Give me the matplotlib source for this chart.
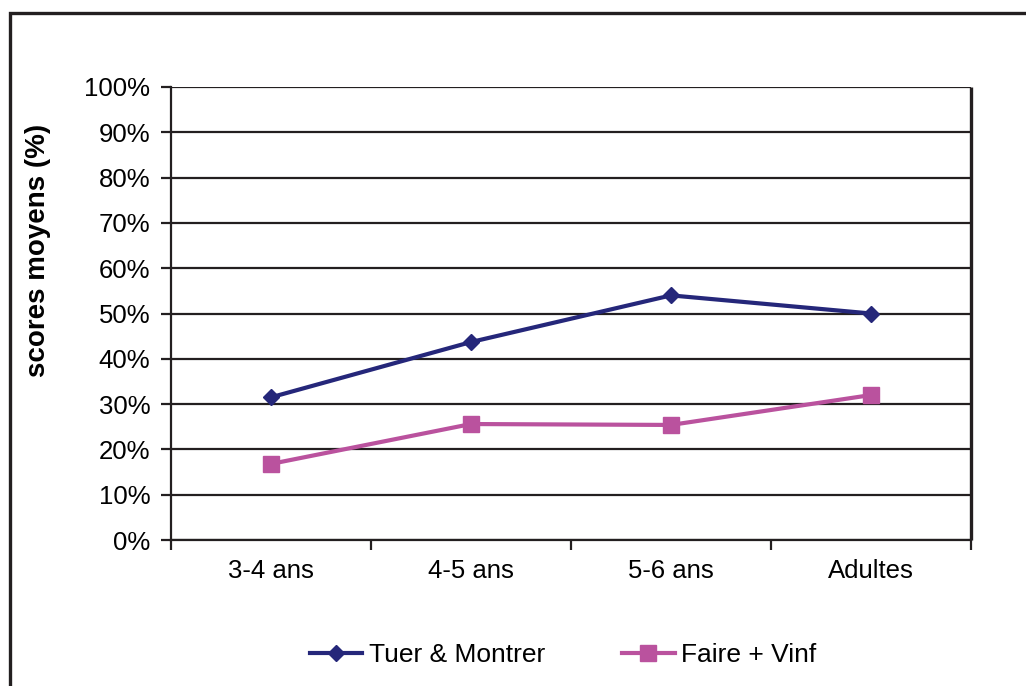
import matplotlib
matplotlib.use("Agg")
import matplotlib.pyplot as plt
from matplotlib.patches import Rectangle
from matplotlib.ticker import FixedLocator, PercentFormatter

plt.rcParams['font.family'] = ['Liberation Sans', 'DejaVu Sans']

categories = ['3-4 ans', '4-5 ans', '5-6 ans', 'Adultes']
tuer_montrer = [31.5, 43.7, 54.0, 50.0]
faire_vinf = [16.8, 25.6, 25.4, 32.0]

ink = '#231f20'
navy = '#25277a'
pink = '#ba529e'

W, H = 1026, 686
fig = plt.figure(figsize=(W / 100, H / 100), dpi=100)

# outer chart frame (runs off the right and bottom edges)
fig.patches.append(Rectangle((10 / W, -0.2), 1.5, (H - 13) / H + 0.2,
                             transform=fig.transFigure, fill=False,
                             lw=2.4, ec=ink, zorder=0))

ax = fig.add_axes((171 / W, (H - 540) / H, 800 / W, 453 / H))

x = list(range(len(categories)))
ax.plot(x, tuer_montrer, color=navy, lw=3, marker='D', ms=8.5,
        label='Tuer & Montrer', zorder=3)
ax.plot(x, faire_vinf, color=pink, lw=3, marker='s', ms=11,
        label='Faire + Vinf', zorder=3)

ax.set_xlim(-0.5, len(categories) - 0.5)
ax.set_ylim(0, 100)

ax.set_yticks(range(0, 101, 10))
ax.yaxis.set_major_formatter(PercentFormatter(decimals=0))
ax.yaxis.grid(True, color=ink, lw=1.6)
ax.set_axisbelow(True)

ax.set_xticks(x)
ax.set_xticklabels(categories)
ax.xaxis.set_minor_locator(FixedLocator([i - 0.5 for i in range(len(categories) + 1)]))
ax.tick_params(axis='x', which='major', length=0, pad=14, labelsize=18.5)
ax.tick_params(axis='x', which='minor', length=7, width=1.6, color=ink)
ax.tick_params(axis='y', length=7, width=1.6, color=ink, pad=8, labelsize=18.5)

for side in ['left', 'bottom']:
    ax.spines[side].set_linewidth(1.6)
    ax.spines[side].set_color(ink)
ax.spines['top'].set_visible(False)
ax.spines['right'].set_linewidth(2.4)
ax.spines['right'].set_color(ink)
ax.spines['right'].set_capstyle('butt')

fig.text(38 / W, 1 - 250 / H, 'scores moyens (%)', rotation=90,
         ha='center', va='center', fontsize=20, fontweight='bold')

fig.legend(loc='center', bbox_to_anchor=(563 / W, 1 - 655 / H), ncol=2,
           frameon=False, fontsize=19, handlelength=2.0,
           handletextpad=0.25, columnspacing=2.9)

fig.savefig('out.png', dpi=100)
